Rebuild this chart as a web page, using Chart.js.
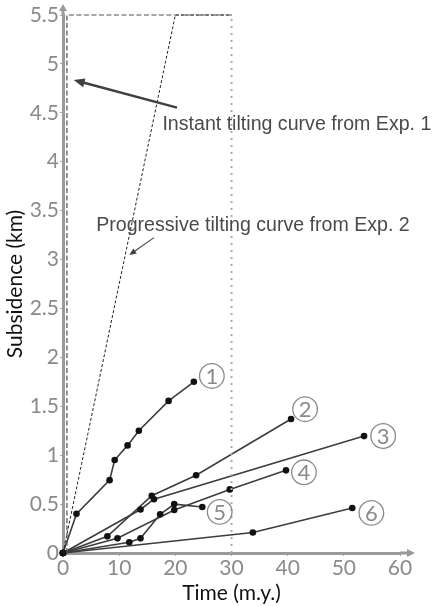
<!DOCTYPE html>
<html>
<head>
<meta charset="utf-8">
<script src="https://cdn.jsdelivr.net/npm/chart.js@4"></script>
<style>
html,body{margin:0;padding:0;background:#fff;}
#wrap{width:436px;height:606px;position:relative;}
</style>
</head>
<body>
<div id="wrap"><canvas id="c"></canvas></div>
<script>
// ---- data (time in m.y., subsidence in km) ----
const xTicks = [0, 10, 20, 30, 40, 50, 60];
const yTicks = ["0", "0.5", "1", "1.5", "2", "2.5", "3", "3.5", "4", "4.5", "5", "5.5"];

const s1T = [0, 2.4, 8.3, 9.2, 11.5, 13.5, 18.8, 23.3];
const s1S = [0, 0.40, 0.745, 0.95, 1.10, 1.25, 1.555, 1.75];
const s2T = [0, 7.9, 15.8, 23.7, 40.6];
const s2S = [0, 0.17, 0.585, 0.795, 1.37];
const s3T = [0, 13.8, 16.2, 53.6];
const s3S = [0, 0.445, 0.55, 1.195];
const s4T = [0, 9.7, 19.8, 29.7, 39.7];
const s4S = [0, 0.15, 0.44, 0.65, 0.845];
const s5T = [0, 11.8, 13.8, 17.3, 19.8, 24.8];
const s5S = [0, 0.11, 0.15, 0.395, 0.50, 0.47];
const s6T = [0, 33.8, 51.5];
const s6S = [0, 0.21, 0.46];

const instantT = [0.7, 0.7, 30];
const instantS = [0, 5.5, 5.5];
const progT = [0, 20, 30];
const progS = [0, 5.5, 5.5];
const limitT = [30, 30];
const limitS = [0, 5.5];

const seriesNames = ["1", "2", "3", "4", "5", "6"];
const seriesLabelT = [26.5, 43.1, 57.0, 42.9, 27.9, 54.9];
const seriesLabelS = [1.81, 1.47, 1.196, 0.825, 0.42, 0.41];

const noteTexts = ["Instant tilting curve from Exp. 1", "Progressive tilting curve from Exp. 2"];
const noteT = [17.7, 5.9];
const noteS = [4.325, 3.29];
const arrowFromT = [20.3, 16.2];
const arrowFromS = [4.553, 3.224];
const arrowToT = [1.9, 11.8];
const arrowToS = [4.836, 3.047];

// ---- helpers ----
function pts(t, s) { return t.map((v, i) => ({x: v, y: s[i]})); }
function series(t, s) {
  return {data: pts(t, s), borderColor: '#3d3d3d', borderWidth: 1.6,
    pointRadius: 3.3, pointBackgroundColor: '#111', pointBorderWidth: 0,
    pointHoverRadius: 3.3, showLine: true, tension: 0, clip: 6};
}

function arrowHead(ctx, x1, y1, x2, y2, len, wid) {
  const a = Math.atan2(y2 - y1, x2 - x1);
  ctx.beginPath();
  ctx.moveTo(x2, y2);
  ctx.lineTo(x2 - len * Math.cos(a) + wid * Math.sin(a), y2 - len * Math.sin(a) - wid * Math.cos(a));
  ctx.lineTo(x2 - len * Math.cos(a) - wid * Math.sin(a), y2 - len * Math.sin(a) + wid * Math.cos(a));
  ctx.closePath();
  ctx.fill();
}

const decor = {
  id: 'decor',
  afterDatasetsDraw(chart) {
    const ctx = chart.ctx, xs = chart.scales.x, ys = chart.scales.y, ca = chart.chartArea;
    ctx.save();
    // axis extensions with arrowheads
    ctx.strokeStyle = '#9a9a9a'; ctx.fillStyle = '#9a9a9a'; ctx.lineWidth = 3;
    ctx.beginPath(); ctx.moveTo(ca.left, ca.top); ctx.lineTo(ca.left, ca.top - 5); ctx.stroke();
    arrowHead(ctx, ca.left, ca.top, ca.left, ca.top - 11, 7, 4);
    ctx.beginPath(); ctx.moveTo(ca.right, ca.bottom); ctx.lineTo(ca.right + 8, ca.bottom); ctx.stroke();
    arrowHead(ctx, ca.right, ca.bottom, ca.right + 15, ca.bottom, 8, 4);

    // circled series numbers
    ctx.font = '22px Lato';
    ctx.textAlign = 'center'; ctx.textBaseline = 'middle';
    for (let i = 0; i < seriesNames.length; i++) {
      const px = xs.getPixelForValue(seriesLabelT[i]);
      const py = ys.getPixelForValue(seriesLabelS[i]);
      ctx.beginPath(); ctx.arc(px, py, 12.3, 0, Math.PI * 2);
      ctx.strokeStyle = '#8a8a8a'; ctx.lineWidth = 1.3; ctx.stroke();
      ctx.fillStyle = '#8a8a8a';
      ctx.fillText(seriesNames[i], px, py + 1);
    }

    // annotation texts
    ctx.font = '19.6px "Liberation Sans", Arial, sans-serif';
    ctx.textAlign = 'left'; ctx.textBaseline = 'alphabetic';
    ctx.fillStyle = '#4a4a4a';
    for (let i = 0; i < noteTexts.length; i++) {
      ctx.fillText(noteTexts[i], xs.getPixelForValue(noteT[i]), ys.getPixelForValue(noteS[i]));
    }
    // annotation arrows
    const widths = [2.4, 1.1], heads = [[11, 4.5], [7, 3]];
    for (let i = 0; i < arrowFromT.length; i++) {
      const x1 = xs.getPixelForValue(arrowFromT[i]), y1 = ys.getPixelForValue(arrowFromS[i]);
      const x2 = xs.getPixelForValue(arrowToT[i]), y2 = ys.getPixelForValue(arrowToS[i]);
      ctx.strokeStyle = '#404040'; ctx.fillStyle = '#404040'; ctx.lineWidth = widths[i];
      const a = Math.atan2(y2 - y1, x2 - x1);
      ctx.beginPath(); ctx.moveTo(x1, y1);
      ctx.lineTo(x2 - heads[i][0] * 0.8 * Math.cos(a), y2 - heads[i][0] * 0.8 * Math.sin(a)); ctx.stroke();
      arrowHead(ctx, x1, y1, x2, y2, heads[i][0], heads[i][1]);
    }
    ctx.restore();
  }
};

const tickFont = {family: 'Lato', size: 21};
const titleFont = {family: 'Lato', size: 21};

new Chart(document.getElementById('c'), {
  type: 'scatter',
  data: {
    datasets: [
      {data: pts(limitT, limitS), showLine: true, borderColor: '#ababab', borderWidth: 2,
        borderDash: [2, 5], pointRadius: 0, clip: 6},
      {data: pts(instantT, instantS), showLine: true, borderColor: '#505050', borderWidth: 1.2,
        borderDash: [5, 2.5], pointRadius: 0, clip: 6},
      {data: pts(progT, progS), showLine: true, borderColor: '#222', borderWidth: 1,
        borderDash: [3, 2], pointRadius: 0, clip: 6},
      series(s6T, s6S), series(s5T, s5S), series(s4T, s4S),
      series(s3T, s3S), series(s2T, s2S), series(s1T, s1S)
    ]
  },
  options: {
    responsive: true, maintainAspectRatio: false, animation: false,
    layout: {padding: {top: 15, right: 36, left: 0, bottom: 0}},
    plugins: {legend: {display: false}, tooltip: {enabled: false}},
    scales: {
      x: {
        type: 'linear', min: 0, max: 60,
        afterFit(s) { s.height = 53; },
        afterBuildTicks(s) { s.ticks = xTicks.map(v => ({value: v})); },
        ticks: {font: tickFont, color: '#8a8a8a', padding: 0, maxRotation: 0,
          callback: v => String(v)},
        grid: {display: true, drawOnChartArea: false, drawTicks: true, tickLength: 3, color: '#aaaaaa'},
        border: {display: true, color: '#9a9a9a', width: 3},
        title: {display: true, text: 'Time (m.y.)', font: titleFont, color: '#111', padding: 0}
      },
      y: {
        type: 'linear', min: 0, max: 5.5,
        afterFit(s) { s.width = 63; },
        afterBuildTicks(s) { s.ticks = yTicks.map(v => ({value: parseFloat(v)})); },
        ticks: {font: tickFont, color: '#8a8a8a', padding: 1,
          callback: (v, i) => yTicks[i]},
        grid: {display: true, drawOnChartArea: false, drawTicks: true, tickLength: 3, color: '#aaaaaa'},
        border: {display: true, color: '#9a9a9a', width: 3},
        title: {display: true, text: 'Subsidence (km)', font: titleFont, color: '#111', padding: {top: 3, bottom: 0}}
      }
    }
  },
  plugins: [decor]
});
</script>
</body>
</html>
